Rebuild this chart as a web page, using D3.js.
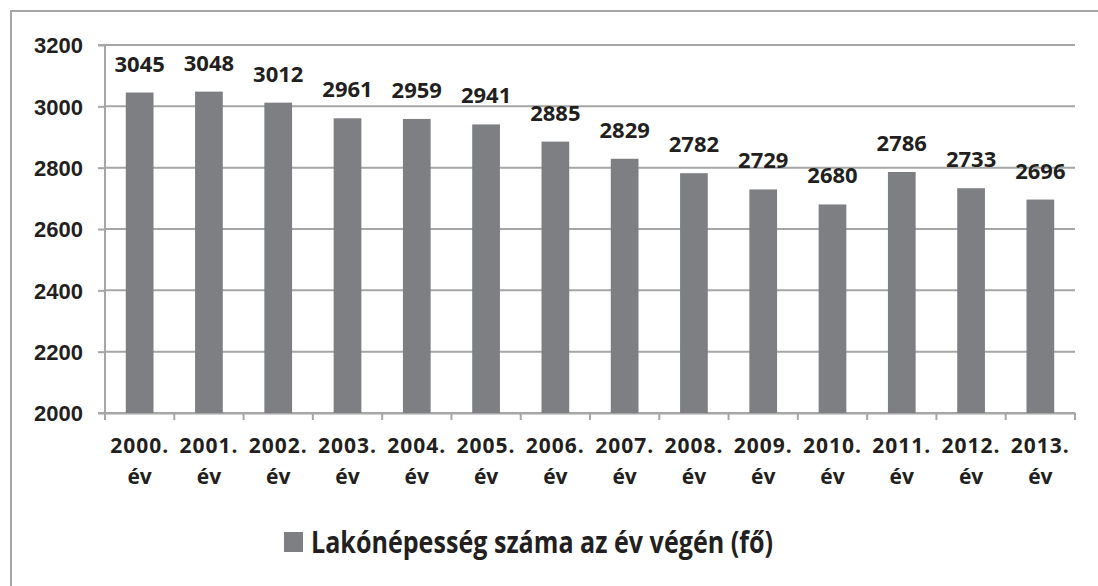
<!DOCTYPE html>
<html>
<head>
<meta charset="utf-8">
<script src="https://cdn.jsdelivr.net/npm/d3@7"></script>
<style>
	body { margin: 0; background: #ffffff; }
	svg { display: block; font-family: "Open Sans", "Noto Sans", sans-serif; font-weight: 700; }
</style>
</head>
<body>
<div id="chart"></div>
<script>
//////////////////////////// data /////////////////////////////////////////

const years = ["2000", "2001", "2002", "2003", "2004", "2005", "2006", "2007", "2008", "2009", "2010", "2011", "2012", "2013"];
const population = [3045, 3048, 3012, 2961, 2959, 2941, 2885, 2829, 2782, 2729, 2680, 2786, 2733, 2696];
const yTicks = [2000, 2200, 2400, 2600, 2800, 3000, 3200];
const seriesName = "Lakónépesség száma az év végén (fő)";

//////////////////////////// sizes ////////////////////////////////////////

const dimensions = {
	width: 1098,
	height: 586,
	margin: { top: 45, right: 23, bottom: 173, left: 105 }
};
dimensions.boundedWidth = dimensions.width - dimensions.margin.left - dimensions.margin.right;
dimensions.boundedHeight = dimensions.height - dimensions.margin.top - dimensions.margin.bottom;

const barColor = "#7e7f83";
const gridColor = "#a6a6a6";
const textColor = "#231f20";

//////////////////////////// svg //////////////////////////////////////////

const svg = d3.select("#chart").append("svg")
	.attr("width", dimensions.width)
	.attr("height", dimensions.height);

// outer frame of the chart
svg.append("path")
	.attr("d", `M11,${dimensions.height} V11 H${dimensions.width}`)
	.attr("fill", "none")
	.attr("stroke", gridColor)
	.attr("stroke-width", 2);

const bounds = svg.append("g")
	.attr("transform", `translate(${dimensions.margin.left},${dimensions.margin.top})`);

//////////////////////////// scales ///////////////////////////////////////

const xScale = d3.scaleBand()
	.domain(years)
	.range([0, dimensions.boundedWidth]);

const yScale = d3.scaleLinear()
	.domain([2000, 3200])
	.range([dimensions.boundedHeight, 0]);

const barWidth = xScale.bandwidth() * 0.4;

//////////////////////////// axes /////////////////////////////////////////

const yAxis = bounds.append("g")
	.call(d3.axisLeft(yScale)
		.tickValues(yTicks)
		.tickFormat(d3.format("d"))
		.tickSize(7)
		.tickPadding(15));

// gridlines
bounds.append("g")
	.selectAll("line")
	.data(yTicks)
	.join("line")
	.attr("x1", 0)
	.attr("x2", dimensions.boundedWidth)
	.attr("y1", (d) => yScale(d))
	.attr("y2", (d) => yScale(d))
	.attr("stroke", gridColor)
	.attr("stroke-width", 2);

const xAxis = bounds.append("g")
	.attr("transform", `translate(0,${dimensions.boundedHeight})`)
	.call(d3.axisBottom(xScale).tickSize(0).tickFormat(""));

// boundary ticks between categories
xAxis.selectAll(".bticks")
	.data(d3.range(years.length + 1))
	.join("line")
	.attr("class", "bticks")
	.attr("x1", (i) => i * xScale.step())
	.attr("x2", (i) => i * xScale.step())
	.attr("y1", 0)
	.attr("y2", 7)
	.attr("stroke", gridColor)
	.attr("stroke-width", 2);

[yAxis, xAxis].forEach((ax) => {
	ax.select(".domain").attr("stroke", gridColor).attr("stroke-width", 2);
	ax.selectAll(".tick line").attr("stroke", gridColor).attr("stroke-width", 2);
});
yAxis.select(".domain").attr("d", `M-7,${dimensions.boundedHeight}H0V0H-7`);
yAxis.selectAll(".tick text")
	.attr("fill", textColor)
	.attr("dy", "0.36em")
	.style("font-size", "22px")
	.style("font-family", "inherit")
	.style("font-weight", 700);

// category labels on two lines
const xLabels = bounds.append("g")
	.selectAll("text")
	.data(years)
	.join("text")
	.attr("x", (d) => xScale(d) + xScale.bandwidth() / 2)
	.attr("text-anchor", "middle")
	.attr("fill", textColor)
	.style("font-size", "21px");

xLabels.append("tspan")
	.attr("x", (d) => xScale(d) + xScale.bandwidth() / 2)
	.attr("y", dimensions.boundedHeight + 40)
	.attr("letter-spacing", "1px")
	.text((d) => d + ".");

xLabels.append("tspan")
	.attr("x", (d) => xScale(d) + xScale.bandwidth() / 2)
	.attr("y", dimensions.boundedHeight + 71)
	.text("év");

//////////////////////////// plot /////////////////////////////////////////

bounds.append("g")
	.selectAll("rect")
	.data(population)
	.join("rect")
	.attr("x", (d, i) => xScale(years[i]) + (xScale.bandwidth() - barWidth) / 2)
	.attr("y", (d) => yScale(d))
	.attr("width", barWidth)
	.attr("height", (d) => dimensions.boundedHeight - yScale(d))
	.attr("fill", barColor);

bounds.append("g")
	.selectAll("text")
	.data(population)
	.join("text")
	.attr("x", (d, i) => xScale(years[i]) + xScale.bandwidth() / 2)
	.attr("y", (d) => yScale(d) - 21)
	.attr("text-anchor", "middle")
	.attr("fill", textColor)
	.style("font-size", "22px")
	.text((d) => d);

//////////////////////////// legend ///////////////////////////////////////

const legend = svg.append("g").attr("transform", "translate(284,532)");

legend.append("rect")
	.attr("width", 19)
	.attr("height", 20)
	.attr("fill", barColor);

legend.append("text")
	.attr("x", 27)
	.attr("y", 21)
	.attr("fill", textColor)
	.attr("textLength", 462)
	.attr("lengthAdjust", "spacingAndGlyphs")
	.style("font-size", "30px")
	.text(seriesName);
</script>
</body>
</html>
